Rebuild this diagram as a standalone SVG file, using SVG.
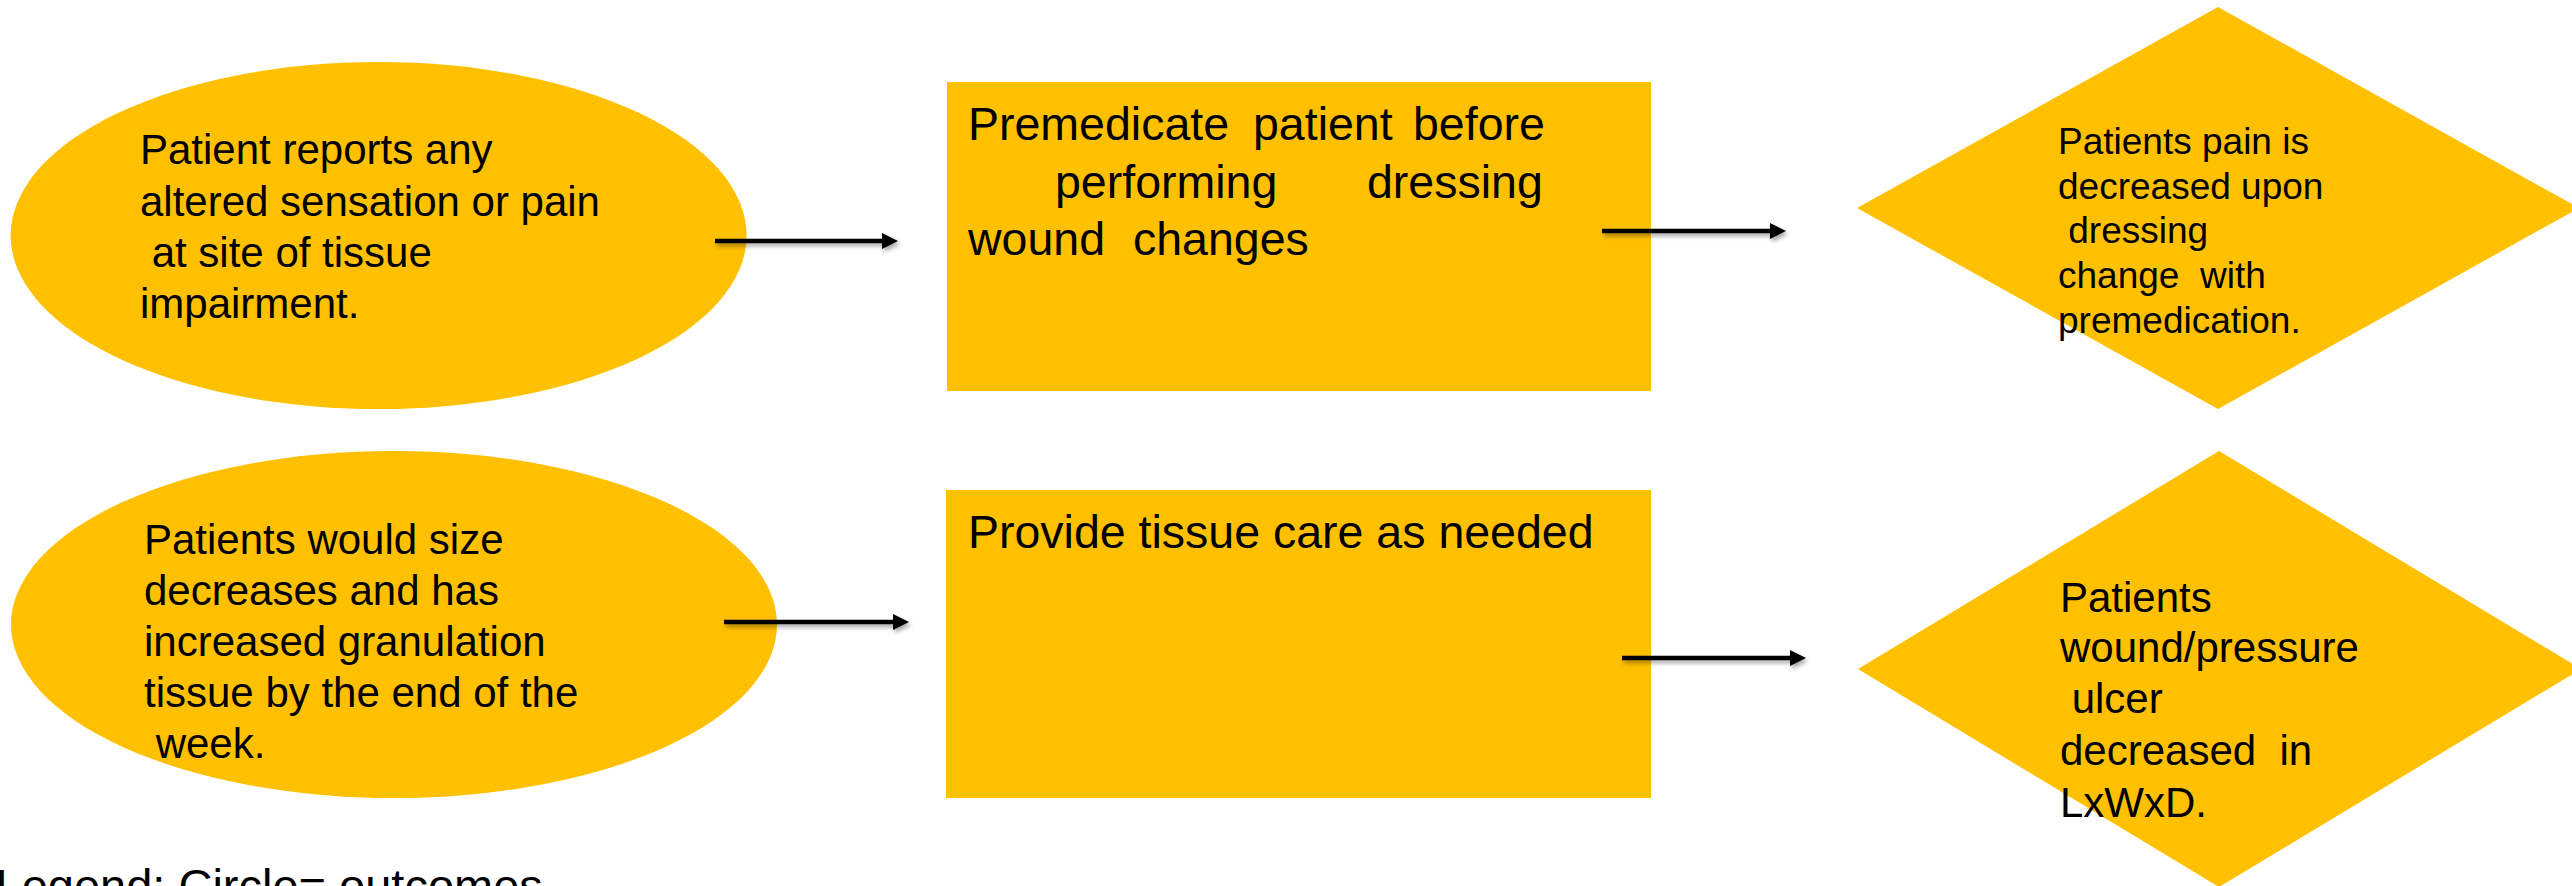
<svg xmlns="http://www.w3.org/2000/svg" width="2572" height="886" viewBox="0 0 2572 886">
<style>
.shape{fill:#FFC000;}
.t{font-family:"Liberation Sans",Arial,sans-serif;fill:#000;}
.conn{stroke:#000;stroke-width:4.5;fill:none;}
</style>
<defs>
<marker id="ah" markerUnits="userSpaceOnUse" markerWidth="17" markerHeight="17" refX="3" refY="8" orient="auto">
<path d="M0,0 L16,8 L0,16 Z" fill="#000"/>
</marker>
<filter id="sh" x="-10%" y="-100%" width="130%" height="400%">
<feDropShadow dx="2" dy="3" stdDeviation="2" flood-color="#000" flood-opacity="0.35"/>
</filter>
</defs>
<rect width="2572" height="886" fill="#fff"/>
<g id="outcome1">
<ellipse class="shape" cx="378.6" cy="235.5" rx="368" ry="173.5"/>
<text class="t" font-size="42"><tspan x="140" y="164">Patient reports any</tspan><tspan x="140" y="216">altered sensation or pain</tspan><tspan x="140" y="267" xml:space="preserve"> at site of tissue</tspan><tspan x="140" y="318">impairment.</tspan></text>
</g>
<g id="outcome2">
<ellipse class="shape" cx="394" cy="624.5" rx="383" ry="173.5"/>
<text class="t" font-size="42"><tspan x="144" y="554">Patients would size</tspan><tspan x="144" y="605">decreases and has</tspan><tspan x="144" y="656">increased granulation</tspan><tspan x="144" y="707">tissue by the end of the</tspan><tspan x="144" y="758" xml:space="preserve"> week.</tspan></text>
</g>
<g id="intervention1">
<rect class="shape" x="947" y="82" width="704" height="309"/>
<text class="t" font-size="46.5"><tspan x="968" y="140">Premedicate</tspan><tspan x="1253" y="140">patient</tspan><tspan x="1413" y="140">before</tspan><tspan x="1055" y="198">performing</tspan><tspan x="1367" y="198">dressing</tspan><tspan x="968" y="255">wound</tspan><tspan x="1133" y="255">changes</tspan></text>
</g>
<g id="intervention2">
<rect class="shape" x="946" y="490" width="705" height="308"/>
<text class="t" font-size="46.5" x="968" y="548">Provide tissue care as needed</text>
</g>
<g id="evaluation1">
<polygon class="shape" points="2218,7 2579,208 2218,409 1857,208"/>
<text class="t" font-size="37"><tspan x="2058" y="154">Patients pain is</tspan><tspan x="2058" y="199">decreased upon</tspan><tspan x="2058" y="243" xml:space="preserve"> dressing</tspan><tspan x="2058" y="288" xml:space="preserve">change  with</tspan><tspan x="2058" y="333">premedication.</tspan></text>
</g>
<g id="evaluation2">
<polygon class="shape" points="2219,451 2581,669 2219,887 1858,669"/>
<text class="t" font-size="42"><tspan x="2060" y="612">Patients</tspan><tspan x="2060" y="662">wound/pressure</tspan><tspan x="2060" y="713" xml:space="preserve"> ulcer</tspan><tspan x="2060" y="765" xml:space="preserve">decreased  in</tspan><tspan x="2060" y="817">LxWxD.</tspan></text>
</g>
<g id="legend">
<text class="t" font-size="47" x="-4.5" y="902">Legend: Circle= outcomes</text>
</g>
<g id="connectors" filter="url(#sh)">
<line class="conn" x1="715" y1="241" x2="885" y2="241" marker-end="url(#ah)"/>
<line class="conn" x1="724" y1="622" x2="896" y2="622" marker-end="url(#ah)"/>
<line class="conn" x1="1602" y1="231" x2="1773" y2="231" marker-end="url(#ah)"/>
<line class="conn" x1="1622" y1="658" x2="1793" y2="658" marker-end="url(#ah)"/>
</g>
</svg>
